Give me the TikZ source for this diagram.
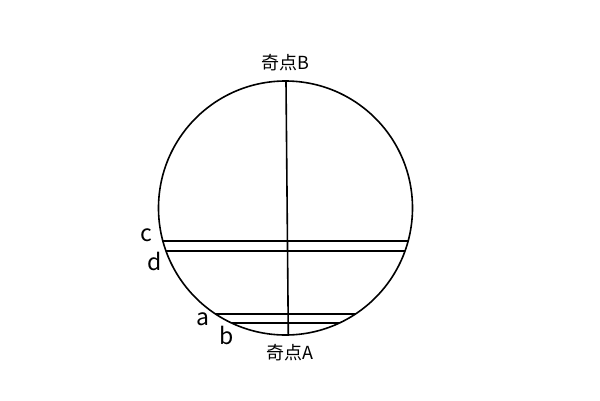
\documentclass[tikz,border=0pt]{standalone}
\usepackage{fontspec}
\setmainfont{Noto Sans CJK SC}
\begin{document}
\begin{tikzpicture}[x=1pt,y=-1pt,
  ln/.style={line width=1.6pt,black},
  big/.style={font=\fontsize{23}{23}\selectfont,inner sep=0pt},
  caplbl/.style={font=\fontsize{18}{18}\selectfont,inner sep=0pt}]
\useasboundingbox (0,0) rectangle (600,400);
\node[draw,ln,circle,minimum size=254pt,inner sep=0pt] (O) at (285.5,208) {};
\coordinate (Bt) at (286,82);
\coordinate (At) at (288.3,334);
\draw[ln] (Bt) -- (At);
\coordinate (c1) at (162.5,241); \coordinate (c2) at (408.5,241);
\coordinate (d1) at (166,251); \coordinate (d2) at (405,251);
\coordinate (a1) at (215.5,314); \coordinate (a2) at (355.5,314);
\coordinate (b1) at (231.6,323); \coordinate (b2) at (339.4,323);
\draw[ln] (c1) -- (c2);
\draw[ln] (d1) -- (d2);
\draw[ln] (a1) -- (a2);
\draw[ln] (b1) -- (b2);
\node[big] (lc) at (146,235) {c};
\node[big] (ld) at (155,261) {d};
\node[big] (la) at (203,319) {a};
\node[big] (lb) at (227,335) {b};
\node[caplbl] (nB) at (285,63) {奇点B};
\node[caplbl] (nA) at (290,353) {奇点A};
\end{tikzpicture}
\end{document}
